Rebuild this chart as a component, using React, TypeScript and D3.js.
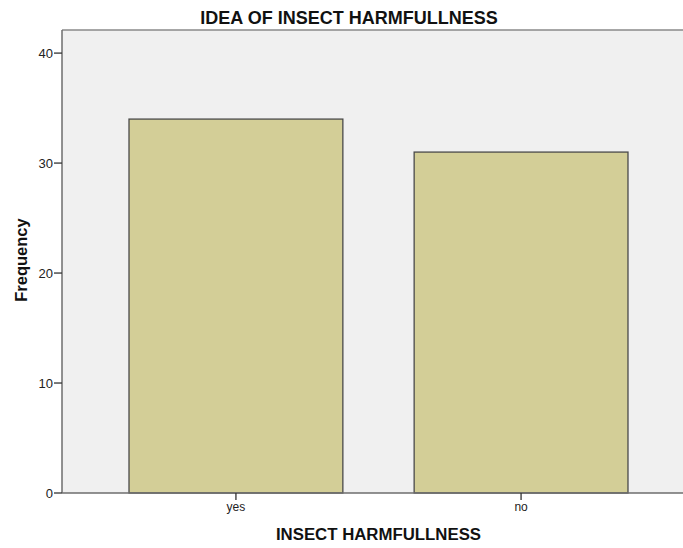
import * as d3 from "d3";
import { useEffect, useRef } from "react";

const categories = ["yes", "no"];
const frequencies = [34, 31];
const yTicks = [0, 10, 20, 30, 40];

const WIDTH = 683;
const HEIGHT = 548;
const PLOT = { left: 62, right: 695, top: 30, bottom: 493 };
const FONT = "Arial, 'Liberation Sans', sans-serif";

export default function App() {
  const svgRef = useRef<SVGSVGElement>(null);

  useEffect(() => {
    const svg = d3.select(svgRef.current);
    svg.selectAll("*").remove();

    const x = d3
      .scaleBand<string>()
      .domain(categories)
      .range([PLOT.left, PLOT.right])
      .paddingInner(0.25)
      .paddingOuter(0.235);
    const y = d3.scaleLinear().domain([0, 42.1]).range([PLOT.bottom, PLOT.top]);

    // plot background
    svg
      .append("rect")
      .attr("x", PLOT.left)
      .attr("y", PLOT.top)
      .attr("width", WIDTH - PLOT.left)
      .attr("height", PLOT.bottom - PLOT.top)
      .attr("fill", "#f0f0f0");

    svg
      .append("line")
      .attr("x1", PLOT.left)
      .attr("x2", WIDTH)
      .attr("y1", PLOT.top)
      .attr("y2", PLOT.top)
      .attr("stroke", "#8a8a8a")
      .attr("stroke-width", 1.5);

    // bars
    svg
      .append("g")
      .selectAll("rect")
      .data(categories)
      .join("rect")
      .attr("x", (d) => x(d) ?? 0)
      .attr("y", (_, i) => y(frequencies[i]))
      .attr("width", x.bandwidth())
      .attr("height", (_, i) => y(0) - y(frequencies[i]))
      .attr("fill", "#d3ce97")
      .attr("stroke", "#4a4a4a")
      .attr("stroke-width", 1.3);

    // axes
    const axisColor = "#6e6e6e";
    svg
      .append("line")
      .attr("x1", PLOT.left)
      .attr("x2", PLOT.left)
      .attr("y1", PLOT.top)
      .attr("y2", PLOT.bottom)
      .attr("stroke", axisColor)
      .attr("stroke-width", 1.5);
    svg
      .append("line")
      .attr("x1", PLOT.left)
      .attr("x2", WIDTH)
      .attr("y1", PLOT.bottom)
      .attr("y2", PLOT.bottom)
      .attr("stroke", axisColor)
      .attr("stroke-width", 1.5);

    const yAxis = svg.append("g");
    yAxis
      .selectAll("line")
      .data(yTicks)
      .join("line")
      .attr("x1", PLOT.left - 8)
      .attr("x2", PLOT.left)
      .attr("y1", (d) => y(d))
      .attr("y2", (d) => y(d))
      .attr("stroke", "#333")
      .attr("stroke-width", 1.3);
    yAxis
      .selectAll("text")
      .data(yTicks)
      .join("text")
      .attr("x", PLOT.left - 9)
      .attr("y", (d) => y(d))
      .attr("dy", "0.35em")
      .attr("text-anchor", "end")
      .attr("font-family", FONT)
      .attr("font-size", 13)
      .attr("fill", "#222")
      .text((d) => d);

    const xAxis = svg.append("g");
    xAxis
      .selectAll("line")
      .data(categories)
      .join("line")
      .attr("x1", (d) => (x(d) ?? 0) + x.bandwidth() / 2)
      .attr("x2", (d) => (x(d) ?? 0) + x.bandwidth() / 2)
      .attr("y1", PLOT.bottom)
      .attr("y2", PLOT.bottom + 7)
      .attr("stroke", "#333")
      .attr("stroke-width", 1.3);
    xAxis
      .selectAll("text")
      .data(categories)
      .join("text")
      .attr("x", (d) => (x(d) ?? 0) + x.bandwidth() / 2)
      .attr("y", 511)
      .attr("text-anchor", "middle")
      .attr("font-family", FONT)
      .attr("font-size", 12)
      .attr("fill", "#222")
      .text((d) => d);

    // titles
    svg
      .append("text")
      .attr("x", 349)
      .attr("y", 24)
      .attr("text-anchor", "middle")
      .attr("font-family", FONT)
      .attr("font-weight", "bold")
      .attr("font-size", 18)
      .attr("fill", "#111")
      .text("IDEA OF INSECT HARMFULLNESS");
    svg
      .append("text")
      .attr("x", (PLOT.left + PLOT.right) / 2)
      .attr("y", 540)
      .attr("text-anchor", "middle")
      .attr("font-family", FONT)
      .attr("font-weight", "bold")
      .attr("font-size", 16.8)
      .attr("fill", "#111")
      .text("INSECT HARMFULLNESS");
    svg
      .append("text")
      .attr("transform", `translate(27,260) rotate(-90)`)
      .attr("text-anchor", "middle")
      .attr("font-family", FONT)
      .attr("font-weight", "bold")
      .attr("font-size", 16.5)
      .attr("fill", "#111")
      .text("Frequency");
  }, []);

  return (
    <svg
      ref={svgRef}
      width={WIDTH}
      height={HEIGHT}
      viewBox={`0 0 ${WIDTH} ${HEIGHT}`}
      style={{ position: "absolute", left: 0, top: 0, background: "#fff" }}
    />
  );
}
